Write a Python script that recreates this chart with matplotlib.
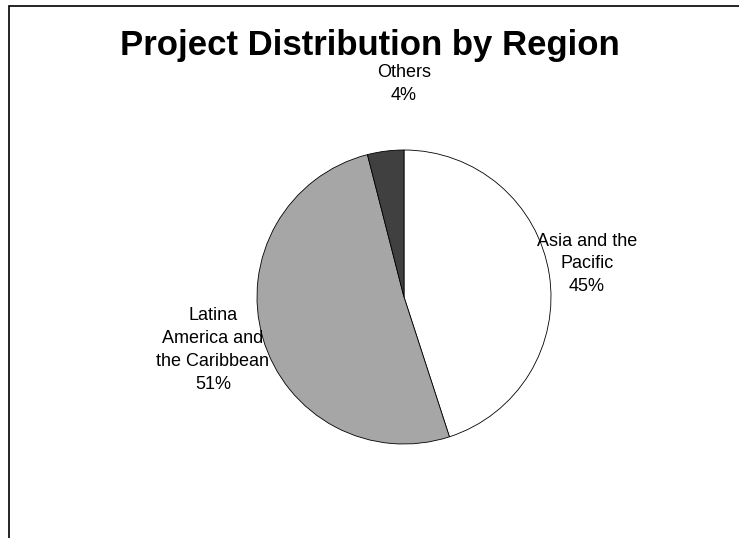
import matplotlib
matplotlib.use("Agg")
import matplotlib.pyplot as plt
from matplotlib.patches import Rectangle

# data
regions = ["Asia and the\nPacific", "Latina\nAmerica and\nthe Caribbean", "Others"]
shares = [45, 51, 4]
colors = ["#ffffff", "#a6a6a6", "#404040"]

plt.rcParams["font.family"] = ["Liberation Sans", "DejaVu Sans"]

W, H = 739, 538
fig = plt.figure(figsize=(W / 100, H / 100), dpi=100)

# outer chart frame (right and bottom edges fall outside the picture)
fig.patches.append(Rectangle((9 / W, -0.05), 1.1, 1 - 6 / H + 0.05,
                             transform=fig.transFigure, fill=False,
                             edgecolor="black", linewidth=1.2))

ax = fig.add_axes([0, 0, 1, 1])
ax.set_xlim(0, W)
ax.set_ylim(0, H)
ax.set_aspect("equal")
ax.axis("off")

cx, cy, r = 404, H - 297, 147
wedges, _ = ax.pie(shares, colors=colors, startangle=90, counterclock=False,
                   center=(cx, cy), radius=r,
                   wedgeprops=dict(edgecolor="black", linewidth=0.6))
ax.set_xlim(0, W)
ax.set_ylim(0, H)

# label positions (pixels, from top-left)
label_xy = [(587, 264), (213, 350), (404, 84)]
for name, val, (lx, ly) in zip(regions, shares, label_xy):
    ax.text(lx, H - ly, f"{name}\n{val}%", ha="center", va="center",
            multialignment="center", fontsize=13, linespacing=1.45)

fig.text(370 / W, 1 - 46 / H, "Project Distribution by Region",
         ha="center", va="center", fontsize=25, fontweight="bold")

fig.savefig("out.png", dpi=100)
